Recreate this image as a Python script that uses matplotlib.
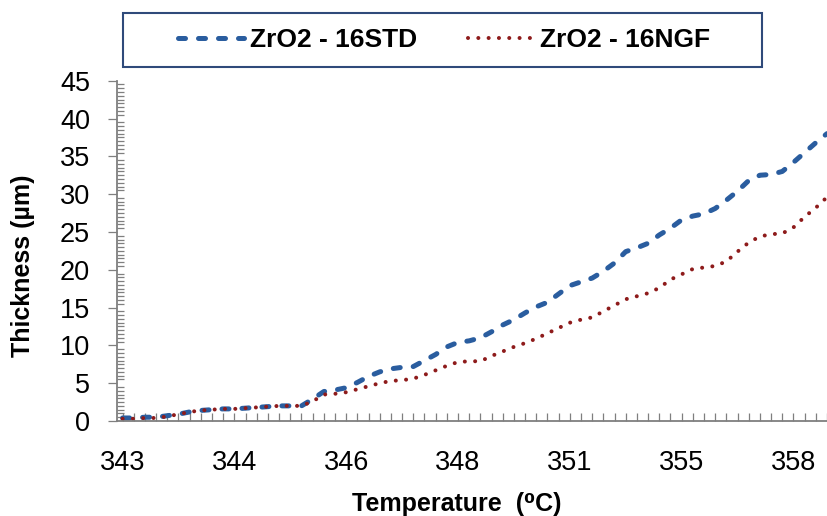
import matplotlib
matplotlib.use("Agg")
import matplotlib.pyplot as plt
from matplotlib.lines import Line2D
from matplotlib.patches import Rectangle
from matplotlib.ticker import MultipleLocator

plt.rcParams['font.family'] = ['Liberation Sans', 'DejaVu Sans']

# one value per measured temperature step, labels shown every 10 steps
tick_labels = ['343', '344', '346', '348', '351', '355', '358']
std_thickness = [0.4, 0.4, 0.5, 0.5, 0.7, 0.9, 1.2, 1.4, 1.5, 1.6,
                 1.6, 1.7, 1.8, 1.9, 2.0, 2.0, 2.0, 2.9, 3.9, 4.1,
                 4.4, 5.1, 5.9, 6.5, 6.9, 7.1, 7.2, 8.0, 8.8, 9.8,
                 10.4, 10.6, 11.0, 11.8, 12.7, 13.4, 14.3, 15.1, 15.7, 16.8,
                 17.9, 18.4, 18.9, 19.8, 20.9, 22.4, 22.9, 23.5, 24.6, 25.5,
                 26.6, 27.1, 27.4, 28.1, 29.2, 30.4, 31.8, 32.5, 32.6, 33.0,
                 34.2, 35.5, 36.8, 38.0]
ngf_thickness = [0.3, 0.3, 0.4, 0.4, 0.6, 0.9, 1.2, 1.4, 1.5, 1.6,
                 1.6, 1.7, 1.8, 1.9, 2.0, 2.0, 2.0, 2.6, 3.5, 3.6,
                 3.8, 4.2, 4.6, 5.0, 5.3, 5.4, 5.6, 6.1, 6.7, 7.3,
                 7.8, 7.9, 7.9, 8.6, 9.2, 9.8, 10.3, 10.9, 11.6, 12.3,
                 13.0, 13.4, 13.7, 14.5, 15.3, 16.1, 16.5, 16.9, 17.6, 18.7,
                 19.4, 20.1, 20.3, 20.5, 21.1, 22.4, 23.6, 24.4, 24.7, 24.8,
                 25.6, 27.0, 28.2, 29.6]

blue = '#2A5D9F'
red = '#8E1B1B'
axis_gray = '#7F7F7F'
std_style = dict(color=blue, lw=3.6, linestyle=(0, (1.4, 2.6)), dash_capstyle='round')
ngf_style = dict(color=red, lw=2.9, linestyle=(0, (0.01, 2.55)), dash_capstyle='round')

fig = plt.figure(figsize=(8.27, 5.16), dpi=100)
ax = fig.add_axes([117 / 827, 95 / 516, 710 / 827, 340.3 / 516])

x = list(range(len(std_thickness)))
ax.plot(x, std_thickness, label='ZrO2 - 16STD', **std_style)
ax.plot(x, ngf_thickness, label='ZrO2 - 16NGF', **ngf_style)

ax.set_xlim(-0.5, 63)
ax.set_ylim(0, 45)

ax.set_xticks(range(0, 10 * len(tick_labels), 10))
ax.set_xticklabels(tick_labels)
ax.xaxis.set_minor_locator(MultipleLocator(1))
ax.yaxis.set_major_locator(MultipleLocator(5))
ax.yaxis.set_minor_locator(MultipleLocator(0.5))

ax.tick_params(axis='x', which='both', direction='in', length=5.5, width=0.9,
               color=axis_gray, labelsize=19.5, pad=21)
ax.tick_params(axis='y', which='major', direction='out', length=6.5, width=0.9,
               color=axis_gray, labelsize=19.5, pad=13)
ax.tick_params(axis='y', which='minor', direction='in', length=5, width=0.9,
               color=axis_gray)

for side in ['top', 'right']:
    ax.spines[side].set_visible(False)
for side in ['left', 'bottom']:
    ax.spines[side].set_color(axis_gray)
    ax.spines[side].set_linewidth(1.3)

ax.set_xlabel('Temperature  (\u2070C)', fontsize=18, fontweight='bold')
ax.set_ylabel('Thickness (\u00b5m)', fontsize=18, fontweight='bold')
ax.xaxis.set_label_coords(0.479, -0.208)
ax.yaxis.set_label_coords(-0.116, 0.455)

# legend box drawn separately so its size matches the original frame
fig.patches.append(Rectangle((123 / 827, (516 - 67) / 516), 639 / 827, 54 / 516,
                             transform=fig.transFigure, fill=False,
                             edgecolor='#2F4A7A', lw=1.5))
handles = [Line2D([], [], **std_style), Line2D([], [], **ngf_style)]
fig.legend(handles, ['ZrO2 - 16STD', 'ZrO2 - 16NGF'], ncol=2, frameon=False,
           loc='center', bbox_to_anchor=(444 / 827, (516 - 40) / 516),
           prop={'size': 19, 'weight': 'bold'}, handlelength=2.5,
           handletextpad=0.25, columnspacing=1.9)

fig.savefig('out.png', dpi=100)
